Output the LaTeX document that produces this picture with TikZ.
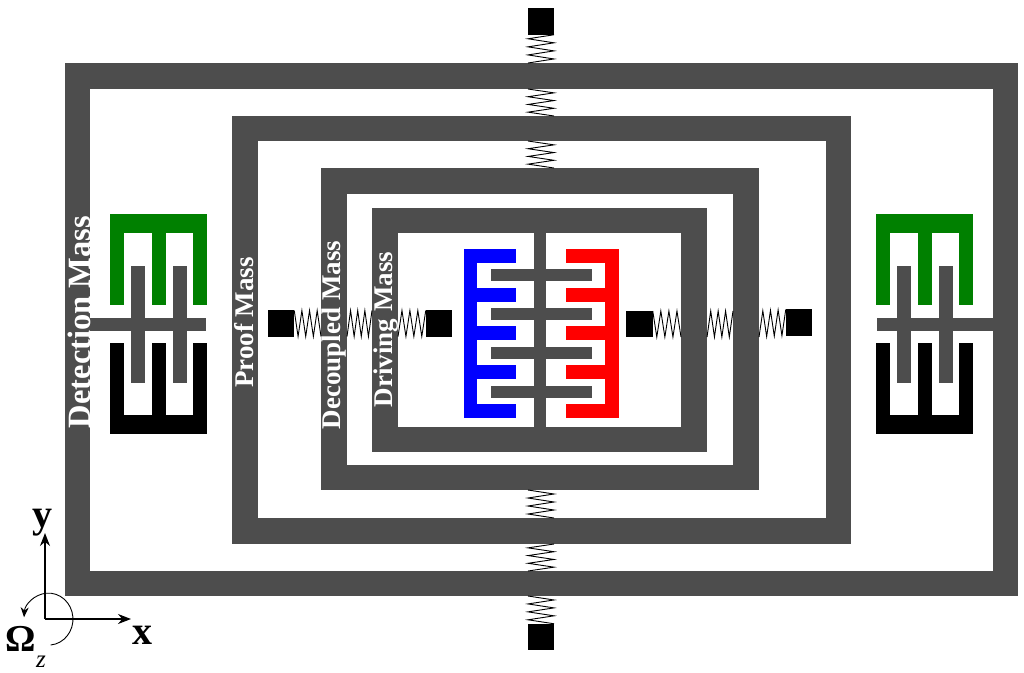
\documentclass[tikz,border=0pt]{standalone}
\usepackage{fontspec}
\setmainfont{Liberation Serif}
\usepackage{xcolor}
\usetikzlibrary{arrows.meta,positioning,calc}
\definecolor{massgray}{RGB}{77,77,77}
\definecolor{combgreen}{RGB}{0,128,0}

% spring between two points on a level / on a plumb line
\newcommand{\hspring}[3]{\draw[coil] ($#1+(0,#3)$) foreach \k/\s in {1/-1,2/1,3/-1,4/1,5/-1,6/1,7/-1}
  { -- ($#1!\k/7!#2+(0,#3*\s)$) };}
\newcommand{\vspring}[3]{\draw[coil] ($#1+(#3,0)$) foreach \k/\s in {1/-1,2/1,3/-1,4/1,5/-1,6/1,7/-1}
  { -- ($#1!\k/7!#2+(#3*\s,0)$) };}

\begin{document}
\begin{tikzpicture}[x=1pt,y=-1pt,
  mass/.style={rectangle,fill=massgray,inner sep=0pt,outer sep=0pt},
  hole/.style={rectangle,fill=white,inner sep=0pt,outer sep=0pt},
  anchorsq/.style={rectangle,fill=black,inner sep=0pt,outer sep=0pt,minimum width=26.5pt,minimum height=26.5pt},
  coil/.style={black,line width=0.9pt,line join=miter},
  lab/.style={text=white,rotate=90,inner sep=0pt,font=\fontsize{27}{27}\selectfont\bfseries},
  axisline/.style={-{Stealth[length=13pt,width=10pt]},line width=1.6pt,black},
  axlab/.style={inner sep=0pt,font=\fontsize{40}{40}\selectfont\bfseries}
]
\useasboundingbox (0,0) rectangle (1024,672);

% frames
\node[mass,minimum width=953pt,minimum height=533pt] (detect) at (541.5,329.5) {};
\node[hole,minimum width=903pt,minimum height=482pt] (detecthole) at (541.5,330) {};
\node[mass,minimum width=619pt,minimum height=428pt] (proof) at (541.5,330) {};
\node[hole,minimum width=568pt,minimum height=377pt] (proofhole) at (542,329.5) {};
\node[mass,minimum width=438pt,minimum height=322pt] (decoupled) at (540,329) {};
\node[hole,minimum width=386pt,minimum height=271pt] (decoupledhole) at (540,329.5) {};
\node[mass,minimum width=335pt,minimum height=244pt] (driving) at (539.5,330) {};
\node[hole,minimum width=283pt,minimum height=194pt] (drivinghole) at (539.5,330) {};

% anchors
\node[anchorsq] (topsq) at (541,21.5) {};
\node[anchorsq] (botsq) at (541,637) {};
\node[anchorsq] (leftsqa) at (281,323.5) {};
\node[anchorsq] (leftsqb) at (439,323.5) {};
\node[anchorsq] (rightsqa) at (639.5,324) {};
\node[anchorsq] (rightsqb) at (799,322.5) {};

% springs
\vspring{(topsq.south)}{(topsq |- detect.north)}{13}
\vspring{(topsq |- detecthole.north)}{(topsq |- proof.north)}{-13}
\vspring{(topsq |- proofhole.north)}{(topsq |- decoupled.north)}{-13}
\vspring{(topsq |- decoupled.south)}{(topsq |- proofhole.south)}{-13}
\vspring{(topsq |- proof.south)}{(topsq |- detecthole.south)}{13}
\vspring{(topsq |- detect.south)}{(botsq.north)}{-13}

\hspring{(leftsqa.east)}{(leftsqa -| decoupled.west)}{-13}
\hspring{(leftsqa -| decoupledhole.west)}{(leftsqa -| driving.west)}{13}
\hspring{(leftsqa -| drivinghole.west)}{(leftsqb.west)}{13}
\hspring{(rightsqa.east)}{(rightsqa -| drivinghole.east)}{-13}
\hspring{(rightsqa -| driving.east)}{(rightsqa -| decoupledhole.east)}{13}
\hspring{(rightsqa -| decoupled.east)}{(rightsqb.west)}{13}

% driving comb
\fill[massgray] (534,233) rectangle (546,427);
\foreach \y in {269,308,347,386}
  \fill[massgray] (491,\y) rectangle ++(101,12);
\fill[blue] (464,249) rectangle (477,418);
\fill[red] (605,249) rectangle (619,418);
\foreach \y in {249,288,326,365,404} {
  \fill[blue] (464,\y) rectangle ++(52,14);
  \fill[red] (566,\y) rectangle ++(53,14);
}

% sense combs
\foreach \dx in {0,766} {
  \begin{scope}[xshift=\dx pt]
    \fill[combgreen] (110,214) rectangle (207,233);
    \fill[black] (110,415) rectangle (207,434);
    \foreach \x in {110,152,193} {
      \fill[combgreen] (\x,214) rectangle ++(14,91);
      \fill[black] (\x,343) rectangle ++(14,91);
    }
    \foreach \x in {131,173}
      \fill[massgray] (\x-0.5,266) rectangle ++(14,117);
  \end{scope}
}
\fill[massgray] (90,318) rectangle (206,331);
\fill[massgray] (877,318) rectangle (993,331);

% labels
\node[lab,font=\fontsize{32.5}{32.5}\selectfont\bfseries] (detectlab) at (79,322) {Detection Mass};
\node[lab] (prooflab) at (244,322.5) {Proof Mass};
\node[lab] (decoupledlab) at (334,335) {Decoupled Mass};
\node[lab] (drivinglab) at (386,329.5) {Driving Mass};

% axes
\coordinate (origin) at (45,619);
\coordinate (xtip) at (131,619);
\coordinate (ytip) at (45,533);
\draw[axisline] (origin) -- (ytip);
\draw[axisline] (origin) -- (xtip);
\coordinate (omegastart) at (50.6,645);
\draw[-{Stealth[length=10pt,width=8pt]},line width=0.9pt,black] (omegastart)
  arc[start angle=-85,end angle=176,x radius=24.5pt,y radius=26pt];
\node[axlab] (xlab) at (142,635) {x};
\node[axlab] (ylab) at (42,523) {y};
\node[axlab,font=\fontsize{38}{38}\selectfont\bfseries] (omegalab) at (21,639) {Ω};
\node[inner sep=0pt,font=\fontsize{25}{25}\selectfont\itshape] (zlab) at (41,662) {z};
\end{tikzpicture}
\end{document}
